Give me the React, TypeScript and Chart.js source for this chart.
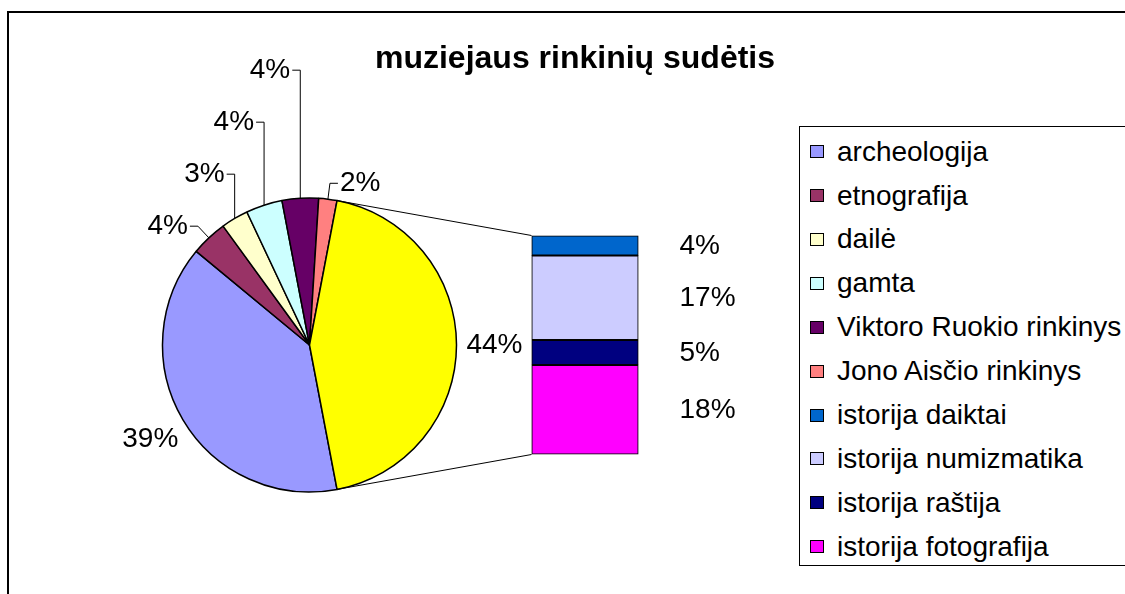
import React, { useEffect, useRef } from "react";
import { Chart, registerables } from "chart.js";

Chart.register(...registerables);

const TITLE = "muziejaus rinkinių sudėtis";

// Pie slices (main pie)
const pieCategories = [
  "archeologija",
  "etnografija",
  "dailė",
  "gamta",
  "Viktoro Ruokio rinkinys",
  "Jono Aisčio rinkinys",
];
const pieValues = [39, 4, 3, 4, 4, 2];
const pieColors = ["#9999FF", "#993366", "#FFFFCC", "#CCFFFF", "#660066", "#FF8080"];

// Breakdown shown in the stacked bar (the "istorija" slice of the pie)
const barCategories = [
  "istorija daiktai",
  "istorija numizmatika",
  "istorija raštija",
  "istorija fotografija",
];
const barValues = [4, 17, 5, 18];
const barColors = ["#0066CC", "#CCCCFF", "#000080", "#FF00FF"];
const otherLabel = "istorija";
const otherColor = "#FFFF00";

const FONT = '"Liberation Sans", Arial, Helvetica, sans-serif';
const W = 1125;
const H = 594;
const LABEL_STEP = 52;
const LABEL_FONT = `28px ${FONT}`;

const barTotal = barValues.reduce((a, b) => a + b, 0);
const grandTotal = pieValues.reduce((a, b) => a + b, 0) + barTotal;

function makePiePlugin(getBar: () => any) {
  return {
    id: "pieExtras",
    afterDatasetsDraw(chart: any) {
      const ctx = chart.ctx as CanvasRenderingContext2D;
      const meta = chart.getDatasetMeta(0);
      const data = chart.data.datasets[0].data as number[];
      const total = data.reduce((a, b) => a + b, 0);
      ctx.save();
      ctx.font = LABEL_FONT;
      ctx.fillStyle = "#000";
      ctx.strokeStyle = "#000";
      ctx.lineWidth = 1;
      ctx.textBaseline = "middle";
      let prevLeftY = Infinity;
      meta.data.forEach((el: any, i: number) => {
        const p = el.getProps(["x", "y", "startAngle", "endAngle", "outerRadius"], true);
        const mid = (p.startAngle + p.endAngle) / 2;
        const cos = Math.cos(mid);
        const sin = Math.sin(mid);
        const text = Math.round((data[i] / total) * 100) + "%";
        const share = data[i] / total;
        if (share >= 0.1) {
          const R = p.outerRadius + 38;
          const tx = p.x + R * cos;
          const ty = p.y + R * sin;
          ctx.textAlign = "center";
          ctx.fillText(text, tx, ty);
          if (cos < 0) prevLeftY = Math.min(prevLeftY, ty);
          return;
        }
        const ax = p.x + p.outerRadius * cos;
        const ay = p.y + p.outerRadius * sin;
        let ex = p.x + (p.outerRadius + 16) * cos;
        let ey = p.y + (p.outerRadius + 16) * sin;
        const left = cos < 0;
        if (left) {
          if (ey > prevLeftY - LABEL_STEP) {
            ex = ax;
            ey = prevLeftY - LABEL_STEP;
          }
          prevLeftY = ey;
        }
        const dir = left ? -1 : 1;
        ctx.beginPath();
        ctx.moveTo(ax, ay);
        ctx.lineTo(ex, ey);
        ctx.lineTo(ex + dir * 8, ey);
        ctx.stroke();
        ctx.textAlign = left ? "right" : "left";
        ctx.fillText(text, ex + dir * 10, ey);
      });

      const bar = getBar();
      if (bar) {
        const other = meta.data[meta.data.length - 1].getProps(
          ["x", "y", "startAngle", "endAngle", "outerRadius"],
          true
        );
        const n = bar.data.datasets.length;
        const b0 = bar.getDatasetMeta(0).data[0].getProps(["x", "y", "base", "width"], true);
        const bN = bar.getDatasetMeta(n - 1).data[0].getProps(["x", "y", "base", "width"], true);
        const leftX = b0.x - b0.width / 2;
        const topY = Math.min(b0.y, b0.base);
        const botY = Math.max(bN.y, bN.base);
        const r = other.outerRadius;
        ctx.beginPath();
        ctx.moveTo(other.x + r * Math.cos(other.startAngle), other.y + r * Math.sin(other.startAngle));
        ctx.lineTo(leftX, topY);
        ctx.moveTo(other.x + r * Math.cos(other.endAngle), other.y + r * Math.sin(other.endAngle));
        ctx.lineTo(leftX, botY);
        ctx.stroke();
      }
      ctx.restore();
    },
  };
}

const barLabelPlugin = {
  id: "barLabels",
  afterDatasetsDraw(chart: any) {
    const ctx = chart.ctx as CanvasRenderingContext2D;
    ctx.save();
    ctx.font = LABEL_FONT;
    ctx.fillStyle = "#000";
    ctx.textAlign = "left";
    ctx.textBaseline = "middle";
    chart.data.datasets.forEach((ds: any, i: number) => {
      const el = chart.getDatasetMeta(i).data[0];
      const p = el.getProps(["x", "y", "base", "width"], true);
      const cy = (p.y + p.base) / 2;
      const v = ds.data[0] as number;
      ctx.fillText(Math.round((v / grandTotal) * 100) + "%", p.x + p.width / 2 + 41, cy + 1);
    });
    ctx.restore();
  },
};

export default function App() {
  const pieRef = useRef<HTMLCanvasElement>(null);
  const barRef = useRef<HTMLCanvasElement>(null);

  useEffect(() => {
    if (!pieRef.current || !barRef.current) return;

    const barChart = new Chart(barRef.current, {
      type: "bar",
      data: {
        labels: [otherLabel],
        datasets: barCategories.map((c, i) => ({
          label: c,
          data: [barValues[i]],
          backgroundColor: barColors[i],
          borderColor: "#000",
          borderWidth: 1.3,
          borderSkipped: false,
          barPercentage: 1,
          categoryPercentage: 1,
        })),
      },
      options: {
        responsive: false,
        animation: false,
        events: [],
        layout: { padding: { left: 531.5, right: W - 638.5, top: 235.5, bottom: H - 454.5 } },
        scales: {
          x: { display: false, stacked: true },
          y: { display: false, stacked: true, min: 0, max: barTotal, reverse: true },
        },
        plugins: { legend: { display: false }, tooltip: { enabled: false }, title: { display: false } },
      },
      plugins: [barLabelPlugin],
    } as any);

    const pieData = [...pieValues, barTotal];
    const otherShare = barTotal / pieData.reduce((a, b) => a + b, 0);
    const pieChart = new Chart(pieRef.current, {
      type: "pie",
      data: {
        labels: [...pieCategories, otherLabel],
        datasets: [
          {
            data: pieData,
            backgroundColor: [...pieColors, otherColor],
            borderColor: "#000",
            borderWidth: 1.5,
          },
        ],
      },
      options: {
        responsive: false,
        animation: false,
        events: [],
        rotation: 90 + otherShare * 180,
        radius: 147,
        layout: { padding: { left: 160, right: W - 459, top: 196, bottom: H - 494 } },
        plugins: { legend: { display: false }, tooltip: { enabled: false }, title: { display: false } },
      },
      plugins: [makePiePlugin(() => barChart)],
    } as any);

    return () => {
      pieChart.destroy();
      barChart.destroy();
    };
  }, []);

  const legendItems = [
    ...pieCategories.map((c, i) => ({ label: c, color: pieColors[i] })),
    ...barCategories.map((c, i) => ({ label: c, color: barColors[i] })),
  ];

  return (
    <div
      style={{
        position: "fixed",
        left: 0,
        top: 0,
        width: W,
        height: H,
        overflow: "hidden",
        background: "#fff",
        fontFamily: FONT,
      }}
    >
      <div
        style={{
          position: "absolute",
          left: 7,
          top: 11,
          width: W + 20,
          height: H + 20,
          borderLeft: "2px solid #000",
          borderTop: "2px solid #000",
        }}
      />
      <canvas
        ref={pieRef}
        width={W}
        height={H}
        style={{ position: "absolute", left: 0, top: 0, width: W, height: H }}
      />
      <canvas
        ref={barRef}
        width={W}
        height={H}
        style={{ position: "absolute", left: 0, top: 0, width: W, height: H, pointerEvents: "none" }}
      />
      <div
        style={{
          position: "absolute",
          left: 0,
          top: 39,
          width: 1150,
          textAlign: "center",
          font: `bold 32px ${FONT}`,
          lineHeight: "36px",
          color: "#000",
          whiteSpace: "nowrap",
        }}
      >
        {TITLE}
      </div>
      <div
        style={{
          position: "absolute",
          left: 799,
          top: 126,
          width: 400,
          height: 440,
          border: "1px solid #000",
          boxSizing: "border-box",
          background: "#fff",
          paddingTop: 2.75,
        }}
      >
        {legendItems.map((it) => (
          <div
            key={it.label}
            style={{ display: "flex", alignItems: "center", height: 43.9, paddingLeft: 10 }}
          >
            <span
              style={{
                width: 14,
                height: 13,
                background: it.color,
                border: "1.5px solid #000",
                boxSizing: "border-box",
                marginRight: 13,
                flex: "none",
              }}
            />
            <span style={{ font: `28px ${FONT}`, lineHeight: "30px", whiteSpace: "nowrap", color: "#000" }}>
              {it.label}
            </span>
          </div>
        ))}
      </div>
    </div>
  );
}
